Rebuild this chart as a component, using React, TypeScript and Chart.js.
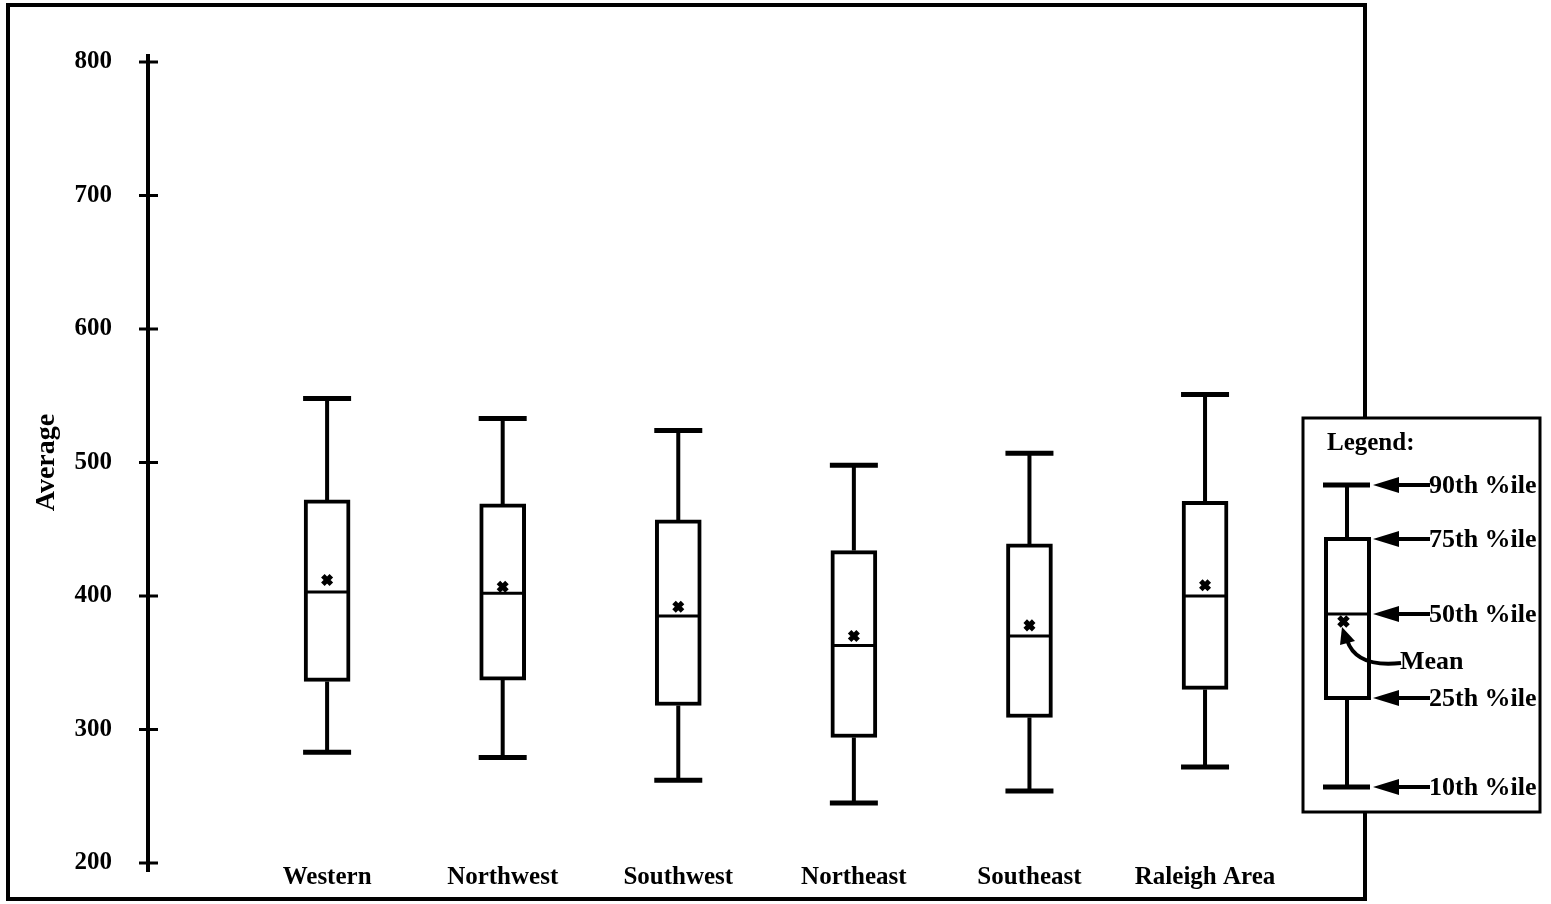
import React, { useEffect, useRef } from "react";
import { Chart, registerables } from "chart.js";

Chart.register(...registerables);

const categories = ["Western", "Northwest", "Southwest", "Northeast", "Southeast", "Raleigh Area"];
const p10 = [283, 279, 262, 245, 254, 272];
const q1 = [336, 337, 318, 294, 309, 330];
const median = [403, 402, 385, 363, 370, 400];
const q3 = [472, 469, 457, 434, 439, 471];
const p90 = [548, 533, 524, 498, 507, 551];
const means = [412, 407, 392, 370, 378, 408];
const yTicks = [200, 300, 400, 500, 600, 700, 800];
const legendLabels = ["90th %ile", "75th %ile", "50th %ile", "25th %ile", "10th %ile"];

const FONT = "'Liberation Serif', 'Times New Roman', serif";

function drawArrowLeft(ctx: CanvasRenderingContext2D, tipX: number, y: number, endX: number) {
  ctx.beginPath();
  ctx.moveTo(tipX, y);
  ctx.lineTo(tipX + 26, y - 8);
  ctx.lineTo(tipX + 26, y + 8);
  ctx.closePath();
  ctx.fill();
  ctx.beginPath();
  ctx.lineWidth = 4;
  ctx.moveTo(tipX + 20, y);
  ctx.lineTo(endX, y);
  ctx.stroke();
}

const boxPlugin = {
  id: "boxExtras",
  afterDatasetsDraw(chart: any) {
    const ctx = chart.ctx as CanvasRenderingContext2D;
    const x = chart.scales.x;
    const y = chart.scales.y;
    ctx.save();
    ctx.strokeStyle = "#000";
    ctx.lineCap = "butt";
    categories.forEach((_, i) => {
      const cx = x.getPixelForValue(i + 1);
      ctx.lineWidth = 4;
      ctx.beginPath();
      ctx.moveTo(cx, y.getPixelForValue(q3[i]));
      ctx.lineTo(cx, y.getPixelForValue(p90[i]));
      ctx.moveTo(cx, y.getPixelForValue(q1[i]));
      ctx.lineTo(cx, y.getPixelForValue(p10[i]));
      ctx.stroke();
      ctx.lineWidth = 5;
      ctx.beginPath();
      ctx.moveTo(cx - 24, y.getPixelForValue(p90[i]));
      ctx.lineTo(cx + 24, y.getPixelForValue(p90[i]));
      ctx.moveTo(cx - 24, y.getPixelForValue(p10[i]));
      ctx.lineTo(cx + 24, y.getPixelForValue(p10[i]));
      ctx.stroke();
      ctx.lineWidth = 3;
      ctx.beginPath();
      ctx.moveTo(cx - 22, y.getPixelForValue(median[i]));
      ctx.lineTo(cx + 22, y.getPixelForValue(median[i]));
      ctx.stroke();
    });
    ctx.restore();
  },
  afterDraw(chart: any) {
    const ctx = chart.ctx as CanvasRenderingContext2D;
    const y = chart.scales.y;
    const ax = chart.chartArea.left;
    ctx.save();
    ctx.strokeStyle = "#000";
    ctx.fillStyle = "#000";
    ctx.lineWidth = 4;
    ctx.beginPath();
    ctx.moveTo(ax, y.getPixelForValue(800) - 8);
    ctx.lineTo(ax, y.getPixelForValue(200) + 9);
    ctx.stroke();
    ctx.lineWidth = 3;
    yTicks.forEach((v) => {
      const py = y.getPixelForValue(v);
      ctx.beginPath();
      ctx.moveTo(ax - 9, py);
      ctx.lineTo(ax + 10, py);
      ctx.stroke();
    });
    ctx.lineWidth = 4;
    ctx.strokeRect(8, 5, 1357, 894);

    const L = 1303, T = 418, R = 1540, B = 812;
    ctx.fillStyle = "#fff";
    ctx.fillRect(L, T, R - L, B - T);
    ctx.lineWidth = 3;
    ctx.strokeRect(L, T, R - L, B - T);
    ctx.fillStyle = "#000";
    ctx.font = `bold 25px ${FONT}`;
    ctx.textBaseline = "middle";
    ctx.textAlign = "left";
    ctx.fillText("Legend:", 1327, 444);

    const mx = 1347;
    const ys = [485, 539, 614, 698, 787];
    ctx.lineWidth = 4;
    ctx.beginPath();
    ctx.moveTo(mx, ys[0]);
    ctx.lineTo(mx, ys[1]);
    ctx.moveTo(mx, ys[3]);
    ctx.lineTo(mx, ys[4]);
    ctx.stroke();
    ctx.lineWidth = 5;
    ctx.beginPath();
    ctx.moveTo(1323, ys[0]);
    ctx.lineTo(1370, ys[0]);
    ctx.moveTo(1323, ys[4]);
    ctx.lineTo(1370, ys[4]);
    ctx.stroke();
    ctx.lineWidth = 4;
    ctx.strokeRect(1326, ys[1], 43, ys[3] - ys[1]);
    ctx.lineWidth = 3;
    ctx.beginPath();
    ctx.moveTo(1326, ys[2]);
    ctx.lineTo(1369, ys[2]);
    ctx.stroke();
    ctx.lineWidth = 5;
    ctx.beginPath();
    ctx.moveTo(1339, 617);
    ctx.lineTo(1348, 626);
    ctx.moveTo(1348, 617);
    ctx.lineTo(1339, 626);
    ctx.stroke();

    ys.forEach((py, i) => {
      drawArrowLeft(ctx, 1373, py, 1430);
      ctx.font = `bold 26px ${FONT}`;
      ctx.fillText(legendLabels[i], 1429, py + 1);
    });

    ctx.lineWidth = 4;
    ctx.beginPath();
    ctx.moveTo(1401, 663);
    ctx.quadraticCurveTo(1356, 668, 1347, 640);
    ctx.stroke();
    ctx.beginPath();
    ctx.moveTo(1342, 627);
    ctx.lineTo(1355, 641);
    ctx.lineTo(1340, 645);
    ctx.closePath();
    ctx.fill();
    ctx.fillText("Mean", 1400, 662);

    ctx.restore();
  },
};

export default function App() {
  const ref = useRef<HTMLCanvasElement | null>(null);
  useEffect(() => {
    const canvas = ref.current;
    if (!canvas) return;
    const chart = new Chart(canvas, {
      type: "bar",
      data: {
        datasets: [
          {
            type: "line",
            label: "Mean",
            data: categories.map((_, i) => ({ x: i + 1, y: means[i] })) as any,
            showLine: false,
            pointStyle: "crossRot",
            pointRadius: 6,
            pointBorderWidth: 5,
            pointBorderColor: "#000",
            pointBackgroundColor: "#000",
            order: 0,
          } as any,
          {
            type: "bar",
            label: "Box",
            data: categories.map((_, i) => ({ x: i + 1, y: [q1[i], q3[i]] })) as any,
            backgroundColor: "#fff",
            borderColor: "#000",
            borderWidth: 4,
            borderSkipped: false,
            barThickness: 46,
            grouped: false,
            order: 1,
          } as any,
        ],
      },
      options: {
        responsive: false,
        animation: false,
        events: [],
        layout: { padding: { left: 0, top: 62, right: 209, bottom: 0 } },
        plugins: { legend: { display: false }, tooltip: { enabled: false } },
        scales: {
          x: {
            type: "linear",
            min: -0.02,
            max: 6.78,
            offset: false,
            grid: { display: false, drawTicks: false },
            border: { display: false },
            afterFit: (s: any) => {
              s.height = 41;
            },
            afterBuildTicks: (s: any) => {
              s.ticks = categories.map((_, i) => ({ value: i + 1 }));
            },
            ticks: {
              autoSkip: false,
              maxRotation: 0,
              padding: 0,
              color: "#000",
              font: { family: FONT, size: 25, weight: "bold" },
              callback: (v: any) => categories[Number(v) - 1] ?? "",
            },
          },
          y: {
            type: "linear",
            min: 200,
            max: 800,
            grid: {
              display: true,
              drawOnChartArea: false,
              drawTicks: true,
              tickLength: 36,
              tickColor: "rgba(0,0,0,0)",
              color: "rgba(0,0,0,0)",
            },
            border: { display: false },
            afterFit: (s: any) => {
              s.width = 148;
            },
            ticks: {
              stepSize: 100,
              padding: 0,
              color: "#000",
              font: { family: FONT, size: 25, weight: "bold" },
            },
            title: {
              display: true,
              text: "Average",
              color: "#000",
              padding: { top: 30, bottom: 0 },
              font: { family: FONT, size: 28, weight: "bold" },
            },
          },
        },
      } as any,
      plugins: [boxPlugin],
    });
    return () => chart.destroy();
  }, []);
  return (
    <div style={{ position: "fixed", left: 0, top: 0, width: 1551, height: 904, background: "#fff" }}>
      <canvas ref={ref} width={1551} height={904} style={{ display: "block" }} />
    </div>
  );
}
